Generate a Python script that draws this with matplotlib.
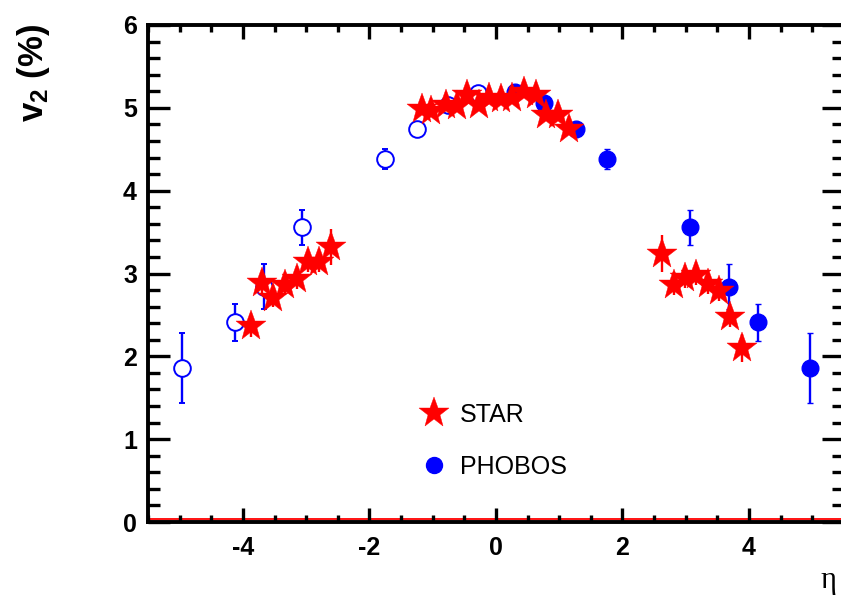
import matplotlib
matplotlib.use("Agg")
import matplotlib.pyplot as plt
from matplotlib.lines import Line2D
from matplotlib.ticker import MultipleLocator
from matplotlib.transforms import ScaledTranslation

plt.rcParams['font.family'] = ['Liberation Sans', 'DejaVu Sans']
plt.rcParams['mathtext.fontset'] = 'custom'
plt.rcParams['mathtext.bf'] = 'Liberation Sans:bold'
plt.rcParams['mathtext.rm'] = 'Liberation Sans:bold'
plt.rcParams['axes.unicode_minus'] = False

# STAR data
star_eta = [-3.87, -3.70, -3.52, -3.34, -3.15, -2.97, -2.79, -2.61,
            -1.17, -1.02, -0.79, -0.62, -0.45, -0.26, -0.11, 0.08, 0.26, 0.45, 0.63, 0.79, 0.99, 1.16,
            2.62, 2.81, 2.99, 3.16, 3.35, 3.52, 3.70, 3.89]
star_v2 = [2.37, 2.89, 2.71, 2.86, 2.93, 3.14, 3.14, 3.32,
           4.99, 4.96, 5.04, 5.02, 5.16, 5.04, 5.12, 5.11, 5.12, 5.19, 5.16, 4.91, 4.91, 4.75,
           3.24, 2.86, 2.94, 2.98, 2.87, 2.79, 2.47, 2.10]
star_err = [0.14, 0.12, 0.12, 0.12, 0.12, 0.12, 0.12, 0.22,
            0.03, 0.03, 0.03, 0.03, 0.03, 0.03, 0.03, 0.03, 0.03, 0.03, 0.03, 0.03, 0.03, 0.03,
            0.22, 0.12, 0.12, 0.12, 0.12, 0.12, 0.12, 0.17]

# PHOBOS data (filled: measured, open: reflected)
phobos_eta = [0.30, 0.76, 1.26, 1.76, 3.07, 3.69, 4.15, 4.97]
phobos_v2 = [5.19, 5.06, 4.74, 4.38, 3.56, 2.84, 2.41, 1.86]
phobos_err = [0.06, 0.06, 0.07, 0.12, 0.21, 0.27, 0.22, 0.42]
phobos_refl_eta = [-0.28, -0.75, -1.25, -1.75, -3.06, -3.67, -4.13, -4.96]
phobos_refl_v2 = [5.18, 5.04, 4.74, 4.38, 3.56, 2.84, 2.41, 1.86]
phobos_refl_err = [0.06, 0.06, 0.07, 0.12, 0.21, 0.27, 0.22, 0.42]

legend_labels = ["STAR", "PHOBOS"]

fig = plt.figure(figsize=(8.41, 6.0), dpi=100)
ax = fig.add_axes([148/841, 78/600, 695.75/841, 497/600])

blue = '#0000ff'
red = '#ff0000'

ax.errorbar(phobos_refl_eta, phobos_refl_v2, yerr=phobos_refl_err, fmt='o', ms=12,
            mfc='white', mec=blue, mew=1.4, ecolor=blue, elinewidth=1.7,
            capsize=2.5, capthick=1.7, zorder=3)
ax.errorbar(phobos_eta, phobos_v2, yerr=phobos_err, fmt='o', ms=12,
            mfc=blue, mec=blue, mew=1.0, ecolor=blue, elinewidth=1.7,
            capsize=2.5, capthick=1.7, zorder=3)
ax.errorbar(star_eta, star_v2, yerr=star_err, fmt='*', ms=23,
            mfc=red, mec=red, mew=0.3, ecolor=red, elinewidth=1.7,
            capsize=0, zorder=4)

zl = ax.axhline(0, color=red, lw=1.3, zorder=1.5, clip_on=False)
zl.set_transform(zl.get_transform() + ScaledTranslation(0, 2.4/72, fig.dpi_scale_trans))

ax.set_xlim(-5.5, 5.5)
ax.set_ylim(0, 6)
ax.xaxis.set_major_locator(MultipleLocator(2))
ax.xaxis.set_minor_locator(MultipleLocator(0.5))
ax.yaxis.set_major_locator(MultipleLocator(1))
ax.yaxis.set_minor_locator(MultipleLocator(0.2))

for s in ax.spines.values():
    s.set_linewidth(2.8)
    s.set_zorder(6)

ax.tick_params(axis='x', which='major', direction='in', top=True, bottom=True,
               length=10, width=2.4, pad=10, labelsize=18)
ax.tick_params(axis='x', which='minor', direction='in', top=True, bottom=True,
               length=5, width=2.4)
ax.tick_params(axis='y', which='major', direction='in', left=True, right=True,
               length=16, width=2.4, pad=8, labelsize=18)
ax.tick_params(axis='y', which='minor', direction='in', left=True, right=True,
               length=8.5, width=2.4)
for lab in ax.get_xticklabels() + ax.get_yticklabels():
    lab.set_fontweight('bold')

fig.text(34/841, 1 - 73/600, r'$\mathbf{v_{2}}$ (%)', rotation=90, ha='center', va='center',
         fontsize=25, fontweight='bold')
fig.text(836/841, 1 - 588/600, 'η', family=['Liberation Serif', 'DejaVu Serif'],
         fontsize=22, ha='right', va='baseline')

handles = [Line2D([], [], ls='none', marker='*', ms=23, mfc=red, mec=red, mew=0.3),
           Line2D([], [], ls='none', marker='o', ms=11.5, mfc=blue, mec=blue)]
ax.legend(handles, legend_labels, loc='upper left', bbox_to_anchor=(420/841, 1 - 403/600),
          bbox_transform=fig.transFigure, frameon=False, fontsize=18, handlelength=1.1,
          handletextpad=0.5, labelspacing=1.1, borderpad=0, borderaxespad=0)

fig.savefig('out.png', dpi=100)
